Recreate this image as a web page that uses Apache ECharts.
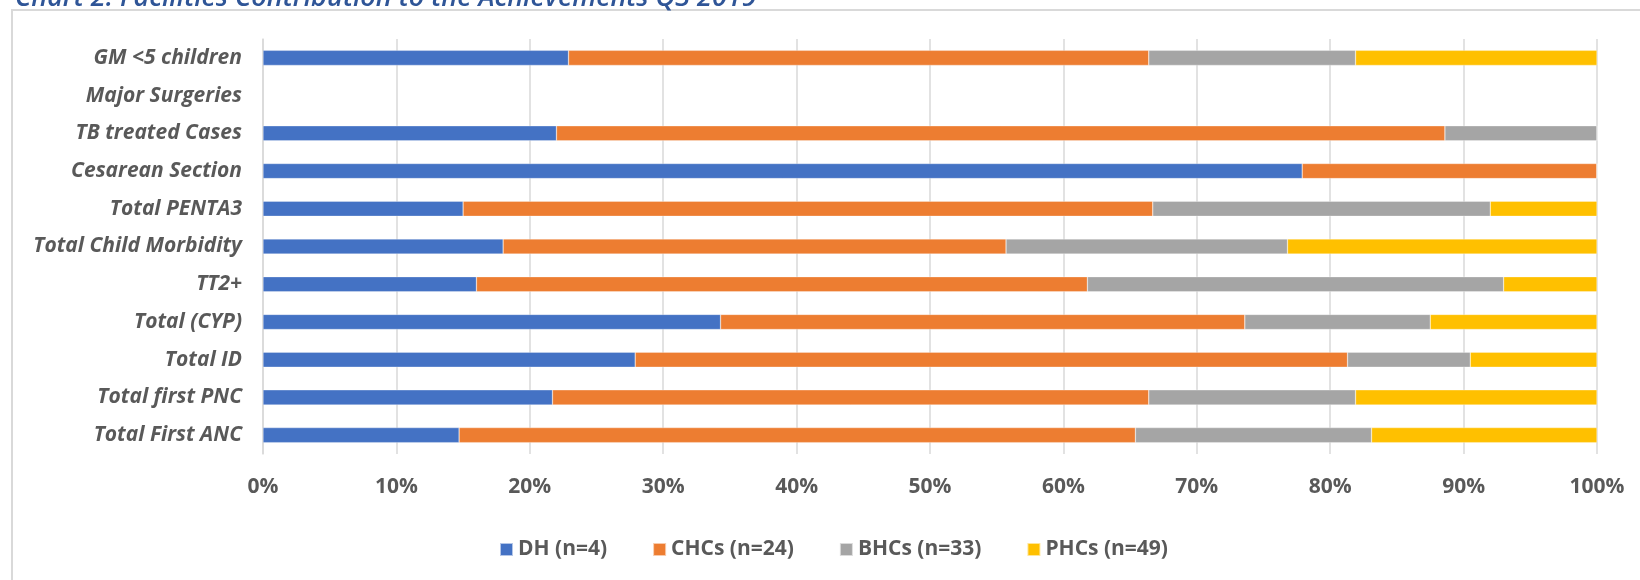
<!DOCTYPE html>
<html>
<head>
<meta charset="utf-8">
<script src="https://cdn.jsdelivr.net/npm/echarts@6/dist/echarts.min.js"></script>
<style>
  html, body { margin: 0; padding: 0; background: #fff; }
  #chart { width: 1640px; height: 580px; }
</style>
</head>
<body>
<div id="chart"></div>
<script>
// Indicators, listed top to bottom
const categories = [
  'GM <5 children',
  'Major Surgeries',
  'TB treated Cases',
  'Cesarean Section',
  'Total PENTA3',
  'Total Child Morbidity',
  'TT2+',
  'Total (CYP)',
  'Total ID',
  'Total first PNC',
  'Total First ANC'
];

// Share of each facility type in the achievement (%)
const dh   = [22.9, null, 22.0, 77.9, 15.0, 18.0, 16.0, 34.3, 27.9, 21.7, 14.7];
const chcs = [43.5, null, 66.6, 22.1, 51.7, 37.7, 45.8, 39.3, 53.4, 44.7, 50.7];
const bhcs = [15.5, null, 11.4, 0,    25.3, 21.1, 31.2, 13.9,  9.2, 15.5, 17.7];
const phcs = [18.1, null, 0,    0,     8.0, 23.2,  7.0, 12.5,  9.5, 18.1, 16.9];

const seriesNames = ['DH (n=4)', 'CHCs (n=24)', 'BHCs (n=33)', 'PHCs (n=49)'];
const seriesColors = ['#4472C4', '#ED7D31', '#A5A5A5', '#FFC000'];
const tickValues = [0, 10, 20, 30, 40, 50, 60, 70, 80, 90, 100];

const FONT = '"Open Sans", Lato, sans-serif';
const LABEL_GRAY = '#595959';

const chart = echarts.init(document.getElementById('chart'), null, { renderer: 'canvas' });

const seriesData = [dh, chcs, bhcs, phcs];

chart.setOption({
  animation: false,
  backgroundColor: '#ffffff',
  graphic: [
    {
      type: 'rect',
      shape: { x: 12, y: 10, width: 1700, height: 700 },
      style: { fill: 'none', stroke: '#d9d9d9', lineWidth: 2 },
      silent: true
    },
    {
      type: 'text',
      x: 15,
      y: 12,
      style: {
        text: 'Chart 2: Facilities Contribution to the Achievements Q3 2019',
        fill: '#2F5597',
        font: 'italic 600 27px ' + FONT,
        verticalAlign: 'bottom'
      },
      silent: true
    }
  ],
  grid: {
    left: 263,
    right: 43,
    top: 39,
    height: 415,
    containLabel: false
  },
  legend: {
    data: seriesNames,
    left: 494,
    top: 534,
    itemWidth: 13,
    itemHeight: 13,
    itemGap: 45,
    icon: 'rect',
    textStyle: {
      fontFamily: FONT,
      fontWeight: 'bold',
      fontSize: 21,
      color: LABEL_GRAY
    }
  },
  xAxis: {
    type: 'value',
    min: 0,
    max: 100,
    interval: 10,
    axisLine: { show: false },
    axisTick: { show: false },
    splitLine: { show: true, lineStyle: { color: '#d9d9d9', width: 1.5 } },
    axisLabel: {
      margin: 23,
      fontFamily: FONT,
      fontWeight: 'bold',
      fontSize: 21,
      color: LABEL_GRAY,
      formatter: v => (tickValues.includes(v) ? v + '%' : '')
    }
  },
  yAxis: {
    type: 'category',
    data: categories,
    inverse: true,
    axisLine: { show: true, lineStyle: { color: '#d9d9d9', width: 1.5 } },
    axisTick: { show: false },
    axisLabel: {
      margin: 21,
      fontFamily: FONT,
      fontWeight: 'bold',
      fontStyle: 'italic',
      fontSize: 21,
      color: LABEL_GRAY
    }
  },
  series: seriesNames.map((name, i) => ({
    name: name,
    type: 'bar',
    stack: 'share',
    barCategoryGap: '60%',
    data: seriesData[i],
    itemStyle: {
      color: seriesColors[i],
      borderColor: 'rgba(255,255,255,0.6)',
      borderWidth: 0.5
    }
  }))
});
</script>
</body>
</html>
